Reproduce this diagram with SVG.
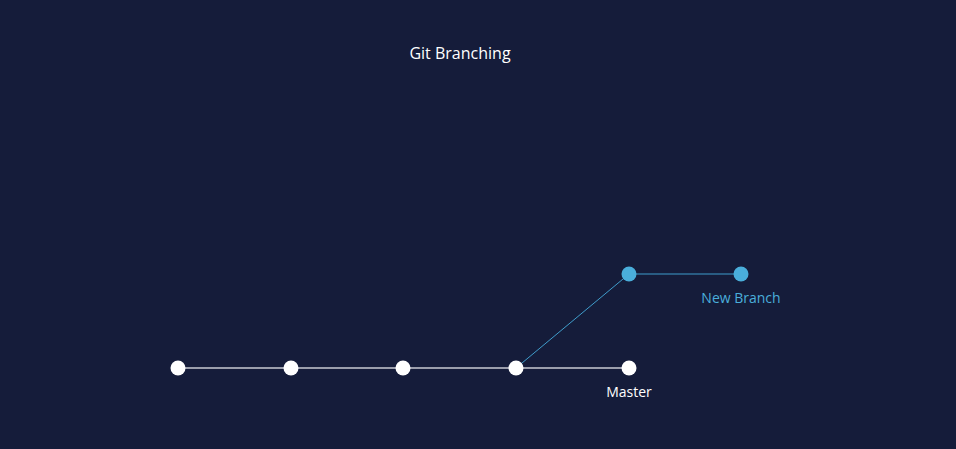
<svg xmlns="http://www.w3.org/2000/svg" width="956" height="449" viewBox="0 0 956 449">
<style>
.t{font-family:"Open Sans","Noto Sans",sans-serif;text-anchor:middle}
.w{fill:#ffffff}
.b{fill:#4aaedb}
</style>
<rect width="956" height="449" fill="#151c3a"/>
<text class="t w" x="460" y="59" font-size="16">Git Branching</text>
<g id="connectors">
<line x1="178" y1="368" x2="629" y2="368" stroke="#c9cad3" stroke-width="1.5"/>
<line x1="516" y1="368" x2="629" y2="274" stroke="#3f9ccb" stroke-width="1"/>
<line x1="629" y1="274" x2="741" y2="274" stroke="#3f9ccb" stroke-width="1.2"/>
</g>
<g id="c1"><circle class="w" cx="178" cy="368" r="7.5"/></g>
<g id="c2"><circle class="w" cx="291" cy="368" r="7.5"/></g>
<g id="c3"><circle class="w" cx="403" cy="368" r="7.5"/></g>
<g id="c4"><circle class="w" cx="516" cy="368" r="7.5"/></g>
<g id="master"><circle class="w" cx="629" cy="368" r="7.5"/><text class="t w" x="629" y="397" font-size="14">Master</text></g>
<g id="b1"><circle class="b" cx="629" cy="274" r="7.5"/></g>
<g id="newbranch"><circle class="b" cx="741" cy="274" r="7.5"/><text class="t b" x="741" y="303" font-size="14">New Branch</text></g>
</svg>
